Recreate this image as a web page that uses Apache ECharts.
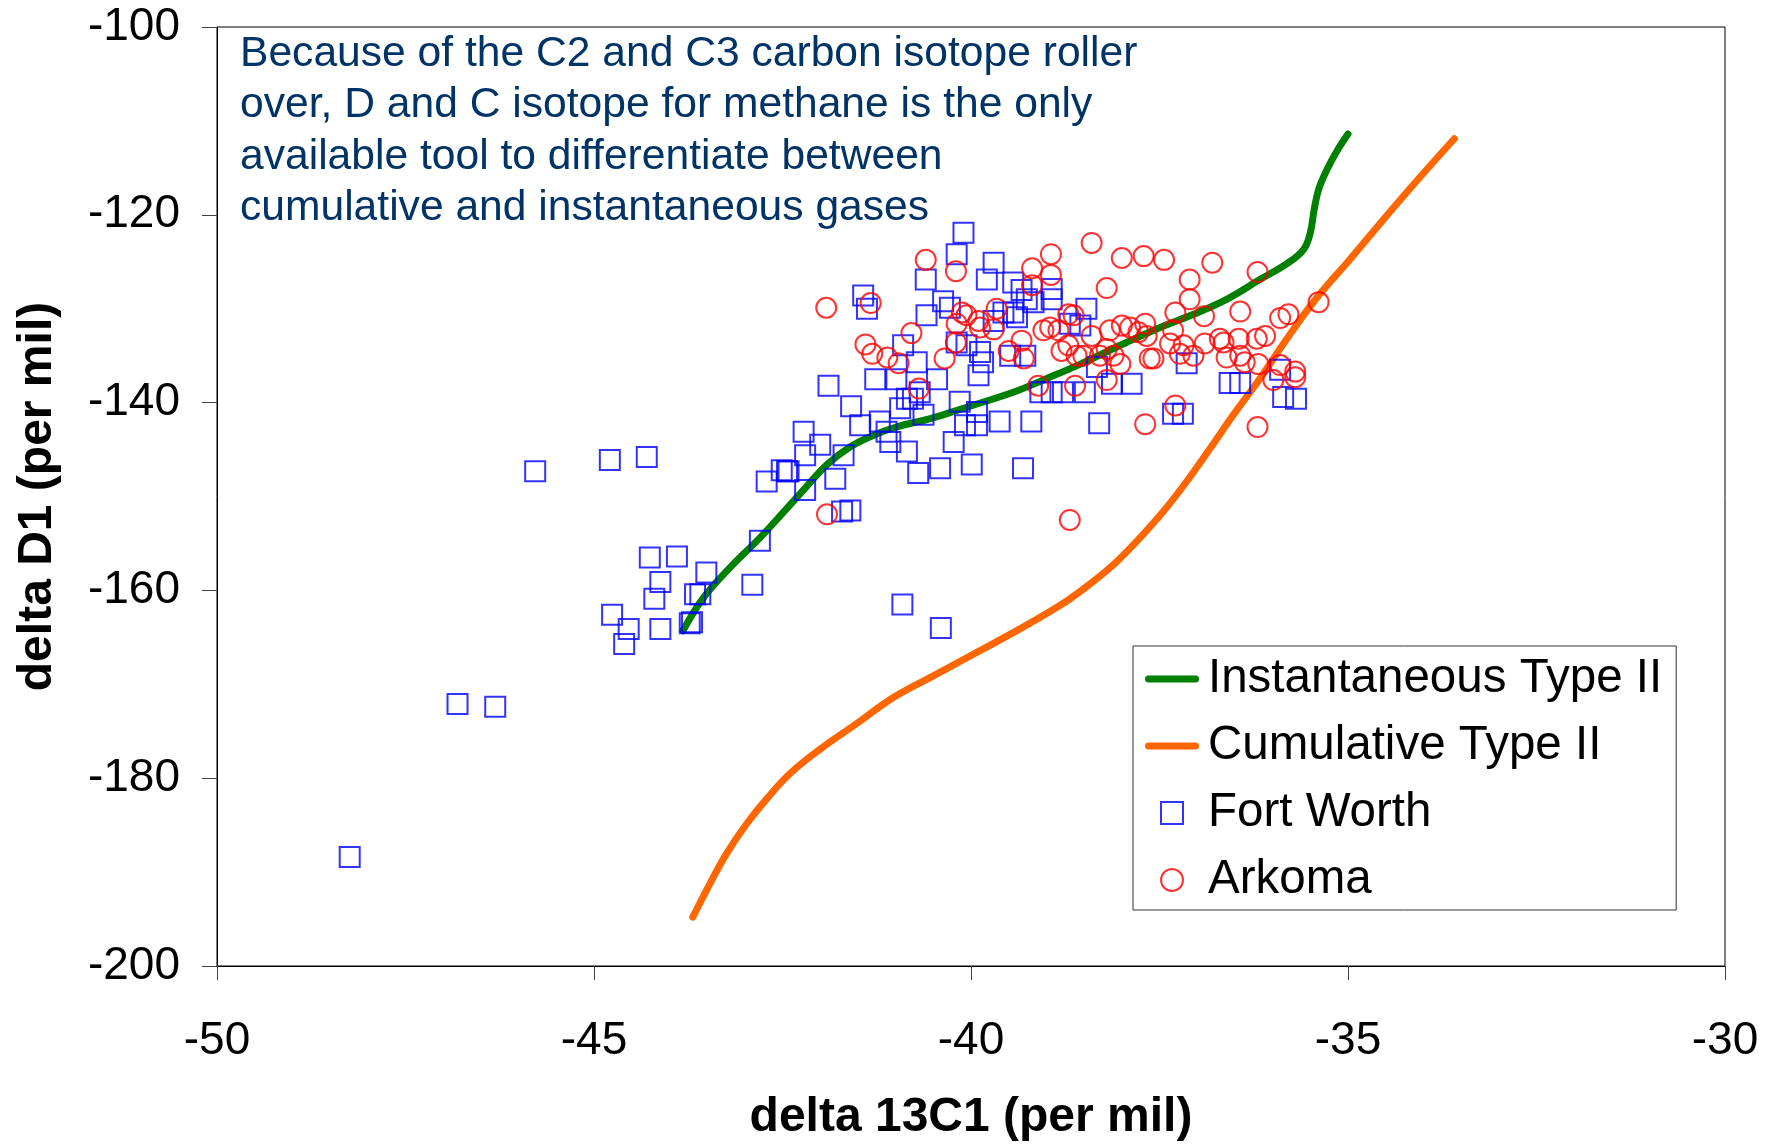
<!DOCTYPE html>
<html>
<head>
<meta charset="utf-8">
<script src="https://cdn.jsdelivr.net/npm/echarts@6/dist/echarts.min.js"></script>
<style>
html,body{margin:0;padding:0;background:#fff;}
#chart{width:1780px;height:1147px;}
</style>
</head>
<body>
<div id="chart"></div>
<script>
// ---- Data ----
const xTicks = [-50, -45, -40, -35, -30];
const yTicks = [-200, -180, -160, -140, -120, -100];

const instantaneousTypeII = [
  [-43.82,-164.3],[-43.55,-160.8],[-43.20,-157.6],[-42.80,-154.4],[-42.49,-151.7],[-42.22,-149.3],
  [-41.91,-146.6],[-41.60,-144.7],[-41.30,-143.5],[-40.99,-142.6],[-40.54,-141.7],[-40.10,-140.6],
  [-39.44,-138.9],[-39.00,-137.45],[-38.55,-135.9],[-37.94,-133.6],[-37.49,-132.0],[-37.05,-130.6],
  [-36.61,-129.0],[-36.17,-126.9],[-35.81,-125.2],[-35.59,-123.7],[-35.50,-121.9],[-35.45,-119.5],
  [-35.39,-117.3],[-35.28,-115.2],[-35.15,-113.25],[-35.00,-111.4]
];

const cumulativeTypeII = [
  [-43.69,-194.8],[-43.46,-191.2],[-43.24,-188.0],[-42.97,-184.8],[-42.71,-182.2],[-42.40,-179.5],
  [-42.00,-176.9],[-41.52,-174.2],[-41.03,-171.4],[-40.50,-169.1],[-39.97,-166.8],[-39.44,-164.5],
  [-38.86,-161.8],[-38.55,-160.1],[-38.11,-157.25],[-37.76,-154.4],[-37.45,-151.6],[-37.14,-148.4],
  [-36.83,-144.9],[-36.52,-141.3],[-36.17,-137.45],[-35.81,-133.2],[-35.44,-129.1],[-34.97,-124.7],
  [-34.53,-120.5],[-34.09,-116.4],[-33.59,-111.9]
];

const fortWorth = [
  [-48.24,-188.4],[-46.81,-172.1],[-46.31,-172.4],[-45.78,-147.3],[-44.79,-146.1],[-44.30,-145.8],
  [-44.26,-156.5],[-43.90,-156.4],[-43.51,-158.1],[-44.12,-159.1],[-44.20,-160.9],[-43.66,-160.4],[-43.59,-160.4],
  [-44.76,-162.6],[-44.54,-164.1],[-44.60,-165.7],[-44.12,-164.1],[-43.73,-163.5],[-43.70,-163.4],
  [-42.80,-154.7],[-42.90,-159.4],[-42.71,-148.4],[-42.51,-147.2],[-42.42,-147.3],[-42.22,-143.1],[-42.20,-145.6],
  [-42.20,-149.3],[-42.44,-147.3],[-42.00,-144.5],[-41.89,-138.2],[-41.80,-148.1],[-41.69,-145.6],[-41.60,-151.5],
  [-41.71,-151.6],[-41.59,-140.4],[-41.47,-142.4],[-41.43,-128.6],[-41.38,-130.0],[-41.27,-137.5],[-41.21,-142.0],
  [-41.12,-143.1],[-41.07,-144.2],[-40.99,-137.5],[-40.94,-140.6],[-40.90,-133.9],[-40.85,-139.6],[-40.85,-145.2],
  [-40.91,-161.5],[-40.77,-139.6],[-40.72,-135.7],[-40.68,-138.9],[-40.63,-141.3],[-40.70,-147.5],[-40.60,-126.9],
  [-40.59,-130.7],[-40.45,-137.5],[-40.41,-147.0],[-40.37,-129.2],[-40.28,-129.9],[-40.23,-144.2],[-40.19,-124.2],
  [-40.10,-121.9],[-40.40,-164.0],[-40.19,-133.6],[-40.15,-139.9],[-40.08,-142.4],[-40.06,-133.9],[-39.99,-146.6],
  [-39.92,-141.0],[-39.92,-142.4],[-39.90,-137.1],[-39.88,-134.6],[-39.84,-135.7],[-39.79,-126.9],[-39.70,-125.1],
  [-39.62,-142.0],[-39.57,-130.4],[-39.70,-131.3],[-39.48,-135.0],[-39.44,-127.2],[-39.44,-130.4],[-39.39,-130.9],
  [-39.33,-128.0],[-39.31,-147.0],[-39.28,-135.0],[-39.26,-129.0],[-39.20,-142.0],[-39.17,-129.3],[-39.08,-138.9],
  [-38.93,-138.9],[-38.93,-127.9],[-38.93,-129.0],[-38.78,-138.9],[-38.69,-131.6],[-38.55,-131.8],[-38.47,-130.0],
  [-38.49,-138.9],[-38.33,-136.2],[-38.30,-142.2],[-38.13,-138.0],[-37.87,-138.0],[-37.32,-141.2],[-37.19,-141.2],
  [-37.14,-135.8],[-36.57,-137.9],[-36.43,-137.9],[-35.90,-136.5],[-35.86,-139.4],[-35.69,-139.6]
];

const arkoma = [
  [-41.92,-129.9],[-41.33,-129.4],[-40.60,-124.8],[-40.20,-126.0],[-38.94,-124.2],[-39.19,-125.7],[-38.94,-126.4],
  [-39.19,-127.5],[-41.40,-133.8],[-41.31,-134.8],[-41.11,-135.2],[-40.96,-135.8],[-40.79,-132.6],[-40.69,-138.5],
  [-40.35,-135.3],[-40.20,-133.6],[-40.19,-131.6],[-40.12,-130.4],[-40.06,-130.7],[-39.90,-131.3],[-39.88,-132.0],
  [-39.70,-132.2],[-39.66,-130.0],[-39.50,-134.5],[-39.33,-133.4],[-39.30,-135.3],[-39.11,-138.2],[-39.04,-132.3],
  [-38.95,-132.0],[-38.84,-132.3],[-38.71,-130.6],[-38.64,-130.7],[-38.80,-134.5],[-38.71,-133.9],[-38.62,-138.2],
  [-38.60,-135.0],[-38.69,-152.5],[-41.91,-151.9],[-38.40,-123.0],[-38.00,-124.6],[-37.71,-124.4],[-37.44,-124.8],
  [-36.80,-125.1],[-36.20,-126.1],[-37.10,-126.9],[-38.20,-127.8],[-37.10,-129.0],[-35.39,-129.3],[-36.43,-130.3],
  [-36.91,-130.8],[-37.29,-130.4],[-35.90,-131.0],[-35.79,-130.6],[-38.40,-132.9],[-38.16,-132.3],[-38.00,-131.8],
  [-37.89,-132.0],[-37.69,-131.6],[-37.78,-132.5],[-37.67,-132.9],[-37.32,-132.3],[-37.36,-133.7],[-37.18,-133.9],
  [-37.23,-134.8],[-37.05,-135.0],[-36.90,-133.7],[-36.70,-133.2],[-36.65,-133.6],[-36.45,-133.2],[-36.21,-133.2],
  [-36.10,-132.9],[-36.61,-135.2],[-36.43,-135.0],[-36.37,-135.7],[-36.19,-135.9],[-35.90,-136.0],[-35.99,-137.6],
  [-35.70,-136.7],[-35.70,-137.3],[-37.58,-135.3],[-37.63,-135.3],[-38.20,-134.3],[-38.29,-135.0],[-38.11,-135.0],
  [-38.02,-135.9],[-38.51,-135.0],[-38.20,-137.6],[-37.29,-140.3],[-37.69,-142.3],[-36.20,-142.6]
];

const seriesNames = ['Instantaneous Type II', 'Cumulative Type II', 'Fort Worth', 'Arkoma'];
const xTitle = 'delta 13C1 (per mil)';
const yTitle = 'delta D1 (per mil)';
const noteLines = [
  'Because of the C2 and C3 carbon isotope roller',
  'over, D and C isotope for methane is the only',
  'available tool to differentiate between',
  'cumulative and instantaneous gases'
];

// ---- Chart ----
const FONT = 'Arial, "Liberation Sans", Helvetica, sans-serif';
const chart = echarts.init(document.getElementById('chart'), null, {renderer: 'canvas'});

const lineIcon = 'path://M3.5,0H50.5A3.5,3.5 0 0 1 50.5,7H3.5A3.5,3.5 0 0 1 3.5,0Z';
const squareIcon = 'path://M0,0H21V21H0Z';

chart.setOption({
  animation: false,
  backgroundColor: '#ffffff',
  grid: {
    left: 217, right: 55, top: 27, bottom: 175,
    show: true, borderColor: '#000', borderWidth: 1, backgroundColor: 'transparent'
  },
  xAxis: {
    type: 'value', min: xTicks[0], max: xTicks[xTicks.length - 1], interval: 5,
    name: xTitle, nameLocation: 'middle', nameGap: 128,
    nameTextStyle: {fontFamily: FONT, fontSize: 48, fontWeight: 'bold', color: '#000'},
    axisLine: {show: true, onZero: false, lineStyle: {color: '#000', width: 1}},
    axisTick: {show: true, inside: false, length: 14, lineStyle: {color: '#444', width: 1}},
    axisLabel: {fontFamily: FONT, fontSize: 46, color: '#000', margin: 52},
    splitLine: {show: false}
  },
  yAxis: {
    type: 'value', min: yTicks[0], max: yTicks[yTicks.length - 1], interval: 20,
    name: yTitle, nameLocation: 'middle', nameGap: 155, nameRotate: 90,
    nameTextStyle: {fontFamily: FONT, fontSize: 48, fontWeight: 'bold', color: '#000'},
    axisLine: {show: true, onZero: false, lineStyle: {color: '#000', width: 1}},
    axisTick: {show: true, inside: false, length: 15, lineStyle: {color: '#444', width: 1}},
    axisLabel: {fontFamily: FONT, fontSize: 46, color: '#000', margin: 37},
    splitLine: {show: false}
  },
  legend: {
    show: true, orient: 'vertical', left: 1133, top: 646,
    padding: [9, 14, 6, 12],
    itemWidth: 54, itemHeight: 22, itemGap: 19,
    selectedMode: false,
    borderColor: '#333', borderWidth: 1, backgroundColor: '#fff',
    textStyle: {fontFamily: FONT, fontSize: 47.5, color: '#000', lineHeight: 47, padding: [0, 0, 0, 4]},
    data: [
      {name: seriesNames[0], icon: lineIcon},
      {name: seriesNames[1], icon: lineIcon},
      {name: seriesNames[2], icon: squareIcon},
      {name: seriesNames[3], icon: 'circle'}
    ]
  },
  graphic: [{
    type: 'text', left: 240, top: 28, z: 10,
    style: {
      text: noteLines.join('\n'),
      fontFamily: FONT, fontSize: 42.6, lineHeight: 51.5, fill: '#003366'
    }
  }],
  series: [
    {
      name: seriesNames[0], type: 'line', data: instantaneousTypeII, smooth: 0.4,
      symbol: 'none', lineStyle: {color: '#008000', width: 7, cap: 'round'},
      itemStyle: {color: '#008000'}, z: 2
    },
    {
      name: seriesNames[1], type: 'line', data: cumulativeTypeII, smooth: 0.4,
      symbol: 'none', lineStyle: {color: '#ff6600', width: 7, cap: 'round'},
      itemStyle: {color: '#ff6600'}, z: 2
    },
    {
      name: seriesNames[2], type: 'scatter', data: fortWorth, symbol: 'rect', symbolSize: 20,
      itemStyle: {color: 'transparent', borderColor: '#0000ff', borderWidth: 2}, z: 3
    },
    {
      name: seriesNames[3], type: 'scatter', data: arkoma, symbol: 'circle', symbolSize: 20,
      itemStyle: {color: 'transparent', borderColor: '#ff0000', borderWidth: 2}, z: 4
    }
  ]
});
</script>
</body>
</html>
